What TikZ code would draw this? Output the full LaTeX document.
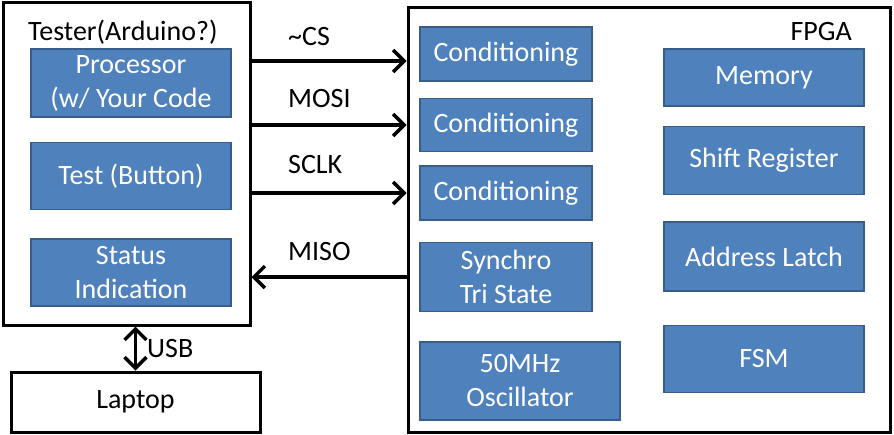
\documentclass[tikz,border=0pt]{standalone}
\usepackage{fontspec}
\setmainfont{Carlito}
\usetikzlibrary{positioning,arrows.meta}
\definecolor{blockblue}{RGB}{79,129,189}
\definecolor{blockedge}{RGB}{56,93,138}
\newcommand*{\bigfont}{\fontsize{28}{34}\selectfont}

\begin{document}
\begin{tikzpicture}[x=1pt, y=-1pt,
    >={Straight Barb[length=11pt,width=22pt]},
    block_frame/.style ={rectangle, draw=black, line width=3pt, fill=white, font=\bigfont, inner sep=0pt},
    block_blue/.style ={rectangle, draw=blockedge, line width=1.5pt, fill=blockblue, font=\bigfont,
      text=white, align=center, minimum width=200pt, inner sep=0pt},
    block_cond/.style ={block_blue, minimum width=172pt, minimum height=54pt},
    block_label/.style ={rectangle, draw=none, font=\bigfont, inner sep=0pt},
    line/.style ={draw, line width=3.5pt, ->, shorten >=0pt}]
    \useasboundingbox (0,0) rectangle (894,434);
    % frames
    \node [block_frame, minimum width=247pt, minimum height=323pt] (tester) at (126.5,163.5) {};
    \node [block_frame, minimum width=482pt, minimum height=425pt] (fpga) at (649,219.5) {};
    \node [block_frame, minimum width=249pt, minimum height=60pt] (laptop) at (135.5,402) {Laptop};
    \node [block_label, anchor=base west] (testertitle) at (28,40) {Tester(Arduino?)};
    \node [block_label, anchor=base east] (fpgatitle) at (852,40) {FPGA};
    % tester column
    \node [block_blue, minimum height=68pt] (processor) at (131,83) {Processor\\ (w/ Your Code};
    \node [block_blue, minimum height=67pt] (test) [below=24pt of processor] {Test (Button)};
    \node [block_blue, minimum height=67pt] (status) [below=28pt of test] {Status\\ Indication};
    % fpga left column
    \node [block_cond] (cond1) at (506,54) {Conditioning};
    \node [block_cond, minimum height=53pt] (cond2) [below=16pt of cond1] {Conditioning};
    \node [block_cond] (cond3) [below=13pt of cond2] {Conditioning};
    \node [block_cond, minimum height=69pt] (synchro) [below=21pt of cond3] {Synchro\\ Tri State};
    \node [block_blue, minimum height=78pt] (osc) [below=29pt of synchro.south west, anchor=north west] {50MHz\\ Oscillator};
    % fpga right column
    \node [block_blue, minimum height=57pt] (memory) at (764,77.5) {Memory};
    \node [block_blue, minimum height=68pt] (shift) [below=19pt of memory] {Shift Register};
    \node [block_blue, minimum height=69pt] (latch) [below=26pt of shift] {Address Latch};
    \node [block_blue, minimum height=67pt] (fsm) [below=33pt of latch] {FSM};
    % signal names
    \node [block_label, anchor=base west] (cslabel) at (288,45) {\textasciitilde CS};
    \node [block_label, anchor=base west] (mosilabel) at (288,107) {MOSI};
    \node [block_label, anchor=base west] (sclklabel) at (288,173) {SCLK};
    \node [block_label, anchor=base west] (misolabel) at (288,260) {MISO};
    \node [block_label, anchor=base west] (usblabel) at (147,357) {USB};
    % connecting nodes with paths
    \coordinate (cs) at ([yshift=-7pt]cond1.center);
    \begin{scope}[every path/.style=line]
      \path (tester.east |- cs) -- (fpga.west |- cs);
      \path (tester.east |- cond2) -- (fpga.west |- cond2);
      \path (tester.east |- cond3) -- (fpga.west |- cond3);
      \path (fpga.west |- synchro) -- (tester.east |- synchro);
      \path [<->] (laptop.north) -- (laptop.north |- tester.south);
    \end{scope}
  \end{tikzpicture}
\end{document}
